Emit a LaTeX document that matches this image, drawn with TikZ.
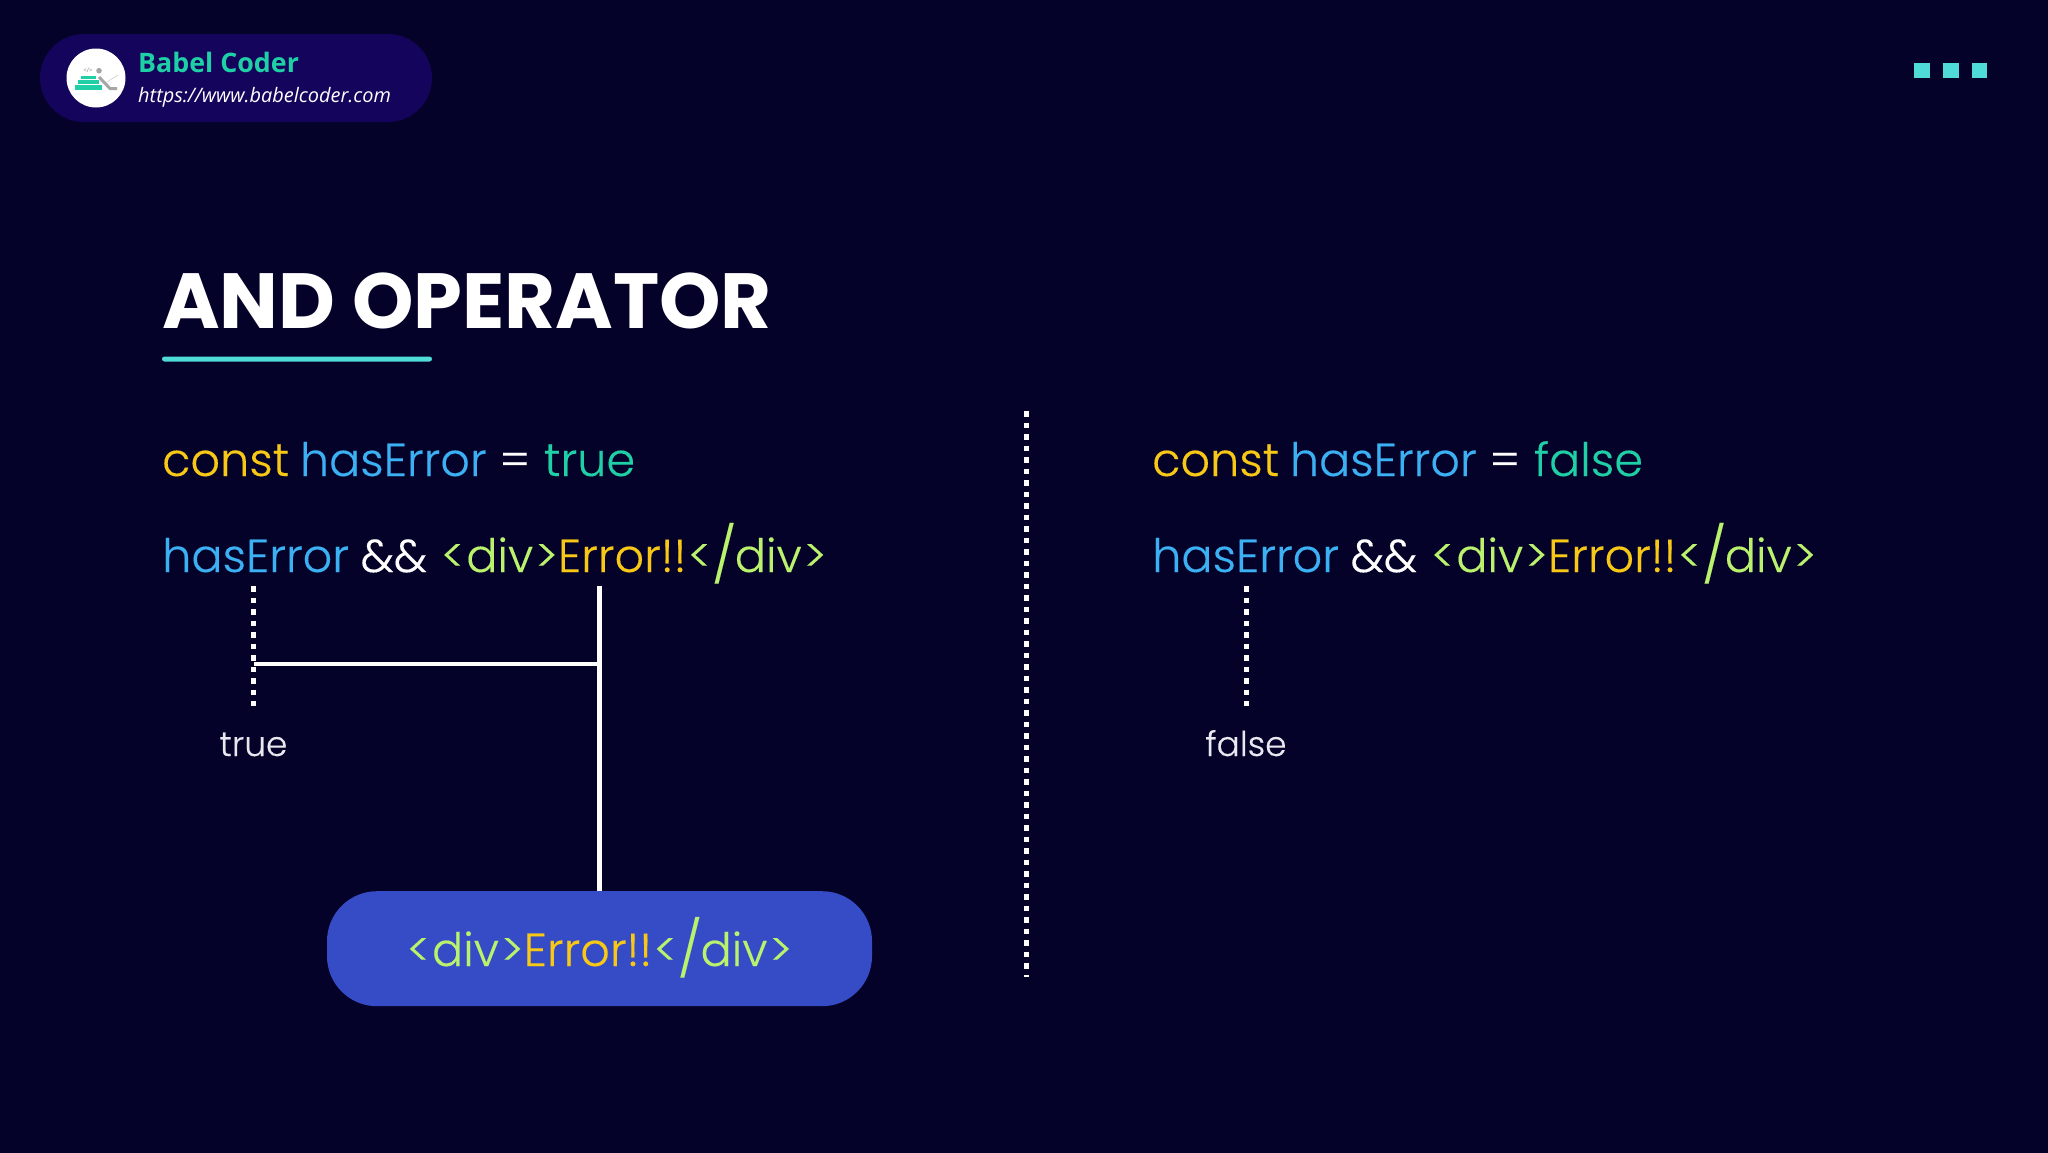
\documentclass[tikz,border=0pt]{standalone}
\usepackage{fontspec}
\setmainfont{Poppins}[UprightFont=* Light,BoldFont=* Bold,UprightFeatures={FakeBold=0.25}]
\newfontfamily\titlefont{Poppins}[UprightFont=* Bold]
\newfontfamily\sansfont{Open Sans}
\definecolor{bgc}{HTML}{05022A}
\definecolor{pillc}{HTML}{14045C}
\definecolor{tealc}{HTML}{1FCFA5}
\definecolor{cyanc}{HTML}{4FDCD8}
\definecolor{yelc}{HTML}{F7C815}
\definecolor{bluc}{HTML}{3BB0F3}
\definecolor{grnc}{HTML}{BAF26E}
\definecolor{btnc}{HTML}{364CC6}
\definecolor{soft}{HTML}{E8E8F0}
\newcommand{\Y}[1]{\textcolor{yelc}{#1}}
\newcommand{\B}[1]{\textcolor{bluc}{#1}}
\newcommand{\T}[1]{\textcolor{tealc}{#1}}
\newcommand{\G}[1]{\textcolor{grnc}{#1}}
\newcommand{\W}[1]{\textcolor{white}{#1}}
\newcommand{\lchev}{\kern1.5bp<\kern2bp}
\newcommand{\rchev}{\kern2bp>\kern1.5bp}
\newcommand{\bigslash}{\kern-1bp\raisebox{-2.5bp}{\fontsize{55}{55}\selectfont /}\kern-1.5bp}
\newcommand{\tagtext}{\G{\lchev div\rchev}\kern-1.5bp\Y{Error!!}\G{\lchev\bigslash div\rchev}}
\newcommand{\codeline}{\B{hasError} \kern-1bp\W{\&\&} \tagtext}
\tikzset{
  codetext/.style={anchor=base west,inner sep=0,font=\fontsize{46.3}{50}\selectfont},
  smalltext/.style={anchor=base,inner sep=0,text=soft,font=\fontsize{34.5}{38}\selectfont},
  dotline/.style={white,line width=4.6bp,dash pattern=on 5.5bp off 6bp},
  solidline/.style={white,line width=4.6bp},
  square/.style={fill=cyanc,draw=none}
}
\begin{document}
\begin{tikzpicture}[x=1bp,y=-1bp]
\useasboundingbox (0,0) rectangle (2048,1152);
\fill[bgc] (-5,-5) rectangle (2053,1157);
% badge
\fill[pillc,rounded corners=44bp] (40,34) rectangle (432,122);
\fill[white] (96,78) circle (29.5);
\fill[tealc] (75,85) rectangle (102,90);
\fill[tealc] (78,80) rectangle (99,84.3);
\fill[tealc] (81,75.5) rectangle (96,79.3);
\fill[gray!70] (99,70.7) circle (2.8);
\draw[gray!70,line width=3bp] (99,77) -- (110,88.5) -- (117,88.5);
\draw[gray!40,line width=.6bp] (107,82) -- (118,75);
\node[anchor=center,inner sep=0,text=gray,font={\sansfont\fontsize{6}{7}\selectfont}] (tag) at (88,70) {</>};
\node[anchor=base west,inner sep=0,text=tealc,font={\sansfont\bfseries\fontsize{26.9}{30}\selectfont}] (brand) at (138,72) {Babel Coder};
\node[anchor=base west,inner sep=0,text=white,font={\sansfont\itshape\fontsize{20}{24}\selectfont}] (url) at (138,102) {https://www.babelcoder.com};
% squares
\fill[square] (1914,63) rectangle (1930,78);
\fill[square] (1943,63) rectangle (1959,78);
\fill[square] (1972,63) rectangle (1987,78);
% title
\node[anchor=base west,inner sep=0,text=white,font={\titlefont\fontsize{78.5}{84}\selectfont}] (title) at (162,328) {AND OPERATOR};
\fill[cyanc,rounded corners=2.5bp] (162,356.5) rectangle (432,361.5);
% left
\node[codetext] (l1) at (162,476) {\Y{const} \kern-2bp\B{hasError} \W{=} \kern1bp\T{true}};
\node[codetext] (l2) at (162,572) {\codeline};
% right
\node[codetext] (r1) at (1152,476) {\Y{const} \kern-2bp\B{hasError} \W{=} \kern1bp\T{false}};
\node[codetext] (r2) at (1152,572) {\codeline};
% connectors
\coordinate (a1) at (253.5,586);
\coordinate (a2) at (253.5,706);
\coordinate (b1) at (599.5,586);
\coordinate (j) at (599.5,664);
\coordinate (aj) at (253.5,664);
\node[smalltext] (tt) at (253.5,756) {true};
\node[smalltext] (ff) at (1246,756) {false};
\node[fill=btnc,rounded corners=50bp,minimum width=545bp,minimum height=115bp,inner sep=0,anchor=north] (btn) at (599.5,891) {};
\node[anchor=base,inner sep=0,font=\fontsize{46.3}{50}\selectfont] (btntext) at (599.5,966) {\tagtext};
\draw[dotline] (a1) -- (a2);
\draw[solidline] (b1) -- (btn.north);
\draw[solidline] (aj) -- (j);
\coordinate (c1) at (1246.5,586);
\coordinate (c2) at (1246.5,706);
\draw[dotline] (c1) -- (c2);
\coordinate (d1) at (1026.5,411);
\coordinate (d2) at (1026.5,977);
\draw[dotline] (d1) -- (d2);
\end{tikzpicture}
\end{document}
